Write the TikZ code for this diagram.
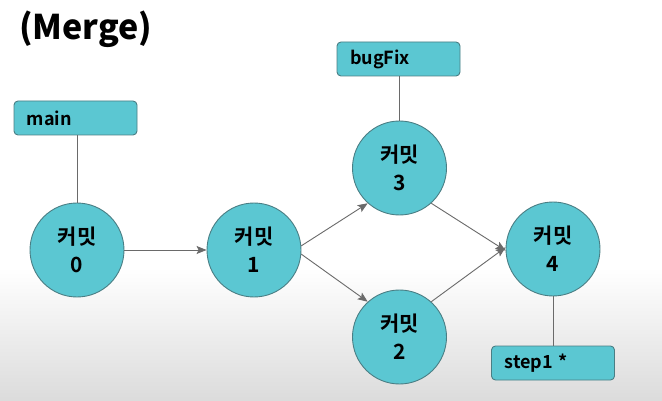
\documentclass[tikz,border=0pt]{standalone}
\usepackage{fontspec}
\setmainfont{Noto Sans CJK KR}[BoldFont={Noto Sans CJK KR Bold}]
\newfontfamily\heavyfont{Noto Sans CJK KR Black}
\usetikzlibrary{arrows.meta}
\definecolor{tealfill}{HTML}{5BC7D2}
\definecolor{tealline}{HTML}{4A7E84}
\definecolor{conn}{HTML}{6A6A6A}
\tikzset{
  commit/.style={circle, draw=tealline, line width=0.9pt, fill=tealfill, minimum size=94pt, inner sep=0pt,
    align=center, font=\bfseries\fontsize{21}{28}\selectfont},
  branch/.style={rectangle, rounded corners=4pt, draw=tealline, line width=0.9pt, fill=tealfill,
    minimum height=34pt, text width=97pt, inner xsep=13pt, inner ysep=0pt, align=left,
    font=\bfseries\fontsize{18}{20}\selectfont},
  link/.style={draw=conn, line width=0.9pt},
  flow/.style={draw=conn, line width=0.9pt, -{Stealth[length=10pt,width=8pt,inset=2pt]}},
}
\begin{document}
\begin{tikzpicture}[x=1pt,y=-1pt]
\useasboundingbox (0,0) rectangle (662,401);
\fill[white] (0,0) rectangle (662,401);
\shade[top color=white, bottom color=black!14] (0,268) rectangle (662,401);
\node[anchor=west, inner sep=0pt, font=\heavyfont\fontsize{34}{38}\selectfont] (title) at (19,29) {(Merge)};
\node[commit] (c0) at (77,250) {커밋\\0};
\node[commit] (c1) at (254,250) {커밋\\1};
\node[commit] (c3) at (399.5,168) {커밋\\3};
\node[commit] (c2) at (399.5,337) {커밋\\2};
\node[commit] (c4) at (553,249) {커밋\\4};
\node[branch] (main) at (75.5,118) {main};
\node[branch] (bug) at (398.5,59) {bugFix};
\node[branch] (step) at (553,363) {step1 *};
\draw[link] (main.south -| c0.north) -- (c0.north);
\draw[link] (bug.south -| c3.north) -- (c3.north);
\draw[link] (c4.south) -- (step.north -| c4.south);
\draw[flow] (c0.east) -- (c1.west);
\draw[flow] (c1.5) -- (c3.-132);
\draw[flow] (c1.-5) -- (c2.132);
\draw[flow] (c3.-48) -- (c4.182);
\draw[flow] (c2.48) -- (c4.178);
\end{tikzpicture}
\end{document}
